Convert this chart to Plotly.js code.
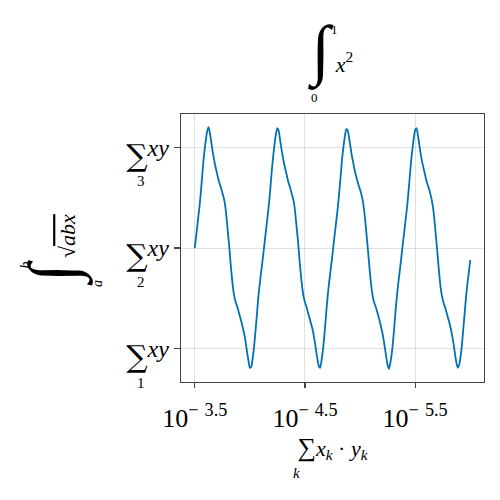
<!DOCTYPE html>
<html><head><meta charset="utf-8">
<script src="https://cdn.plot.ly/plotly-3.0.1.min.js"></script>
<style>html,body{margin:0;padding:0;background:#fff}</style>
</head><body>
<div id="chart" style="width:500px;height:500px"></div>
<script>
// x grid of the sampled curve: starts at 0, step 0.05 (201 samples to 10)
const xStart = 0;
const xStep = 0.05;
const yValues = [
  0.00, 0.12, 0.24, 0.36, 0.49, 0.65, 0.82, 0.96, 1.07, 1.16,
  1.20, 1.14, 1.05, 0.96, 0.88, 0.81, 0.75, 0.69, 0.64, 0.60,
  0.55, 0.50, 0.43, 0.31, 0.16, 0.02, -0.15, -0.30, -0.42, -0.50,
  -0.55, -0.59, -0.64, -0.69, -0.74, -0.80, -0.86, -0.94, -1.04, -1.12,
  -1.19, -1.18, -1.10, -0.99, -0.84, -0.68, -0.51, -0.38, -0.26, -0.15,
  -0.03,
  0.09, 0.21, 0.33, 0.46, 0.61, 0.78, 0.92, 1.04, 1.14, 1.19,
  1.16, 1.07, 0.98, 0.90, 0.83, 0.77, 0.71, 0.65, 0.61, 0.56,
  0.51, 0.45, 0.34, 0.20, 0.06, -0.11, -0.26, -0.39, -0.48, -0.54,
  -0.58, -0.63, -0.68, -0.73, -0.78, -0.84, -0.92, -1.01, -1.10, -1.17,
  -1.19, -1.12, -1.02, -0.88, -0.72, -0.55, -0.41, -0.29, -0.18, -0.06,
  0.06, 0.18, 0.30, 0.42, 0.57, 0.73, 0.89, 1.01, 1.11, 1.18,
  1.17, 1.10, 1.01, 0.92, 0.85, 0.78, 0.72, 0.67, 0.62, 0.58,
  0.53, 0.47, 0.37, 0.24, 0.09, -0.06, -0.22, -0.36, -0.46, -0.53,
  -0.57, -0.61, -0.66, -0.71, -0.77, -0.83, -0.90, -0.99, -1.08, -1.16,
  -1.20, -1.14, -1.05, -0.92, -0.76, -0.59, -0.45, -0.32, -0.21, -0.09,
  0.03, 0.15, 0.27, 0.39, 0.53, 0.69, 0.85, 0.98, 1.09, 1.17,
  1.19, 1.12, 1.03, 0.94, 0.86, 0.80, 0.74, 0.68, 0.63, 0.59,
  0.54, 0.48, 0.40, 0.28, 0.13, -0.02, -0.18, -0.33, -0.44, -0.51,
  -0.56, -0.60, -0.65, -0.70, -0.75, -0.81, -0.88, -0.96, -1.06, -1.14,
  -1.19, -1.16, -1.08, -0.96, -0.80, -0.64, -0.48, -0.35, -0.24, -0.12
];

const xTickVals = [0, 4, 8];
const xTickText = ['10<sup>−\u20043.5</sup>', '10<sup>−\u20044.5</sup>', '10<sup>−\u20045.5</sup>'];
const yTickVals = [-1, 0, 1];
const SIG = '<span style="font-family:DejaVu Serif;font-size:30px;baseline-shift:-10px">∑</span>';
const yTickText = [SIG + '<i>xy</i>', SIG + '<i>xy</i>', SIG + '<i>xy</i>'];
const yTickSubs = ['1', '2', '3'];

const titleText = '<span style="font-size:67px">∫</span> <i>x</i><sup>2</sup>';
const titleLimits = ['1', '0'];
const xTitleText = '<span style="font-size:26px">∑</span><i>x</i><sub><i>k</i></sub> · <i>y</i><sub><i>k</i></sub>\u2002';
const xTitleSub = 'k';
const yTitleText = '<span style="font-size:67px">∫</span> √<span style="text-decoration:overline"><i>abx</i></span>';
const yTitleLimits = ['b', 'a'];

const FONT = 'Liberation Serif, DejaVu Serif, serif';
const spine = '#444';

function note(x, y, text, size, extra) {
  return Object.assign({xref: 'paper', yref: 'paper', x: x, y: y, text: text, showarrow: false,
    xanchor: 'center', yanchor: 'middle', font: {family: FONT, size: size, color: '#000'}}, extra || {});
}

const annotations = [];
yTickVals.forEach((v, i) => annotations.push(
  note(-0.1304, v, yTickSubs[i], 15, {yref: 'y', yshift: -34})));
annotations.push(note(0.508, 1.317, titleLimits[0], 13));
annotations.push(note(0.4422, 1.0634, titleLimits[1], 13));
annotations.push(note(0.381, -0.3377, '<i>' + xTitleSub + '</i>', 15));
annotations.push(note(-0.513, 0.4366, '<i>' + yTitleLimits[0] + '</i>', 14, {textangle: -90}));
annotations.push(note(-0.2756, 0.3675, '<i>' + yTitleLimits[1] + '</i>', 14, {textangle: -90}));

const trace = {
  type: 'scatter', mode: 'lines',
  x0: xStart, dx: xStep, y: yValues,
  line: {color: '#0072B2', width: 1.8, shape: 'spline', smoothing: 0.6},
  hoverinfo: 'skip'
};

const layout = {
  width: 500, height: 500,
  margin: {l: 181, r: 16, t: 114, b: 118},
  paper_bgcolor: '#fff', plot_bgcolor: '#fff',
  showlegend: false,
  font: {family: FONT, color: '#000'},
  title: {text: titleText, x: 0.5, xref: 'paper', xanchor: 'center', y: 0.872, yref: 'container', yanchor: 'middle',
    font: {family: FONT, size: 22, color: '#000'}},
  xaxis: {
    range: [-0.5, 10.5], tickmode: 'array', tickvals: xTickVals, ticktext: xTickText,
    tickfont: {family: FONT, size: 26, color: '#000'}, ticklabelstandoff: 7,
    showline: true, mirror: true, linecolor: spine, linewidth: 1.3,
    ticks: 'outside', ticklen: 5, tickwidth: 1.2, tickcolor: spine,
    showgrid: true, gridcolor: 'rgba(0,0,0,0.12)', gridwidth: 1, zeroline: false,
    title: {text: xTitleText, standoff: 0, font: {family: FONT, size: 22, color: '#000'}},
    automargin: false
  },
  yaxis: {
    range: [-1.331, 1.331], tickmode: 'array', tickvals: yTickVals, ticktext: yTickText,
    tickfont: {family: FONT, size: 24, color: '#000'},
    showline: true, mirror: true, linecolor: spine, linewidth: 1.3,
    ticks: 'outside', ticklen: 6, tickwidth: 1.2, tickcolor: spine,
    showgrid: true, gridcolor: 'rgba(0,0,0,0.12)', gridwidth: 1, zeroline: false,
    title: {text: yTitleText, standoff: 44, font: {family: FONT, size: 22, color: '#000'}},
    automargin: false
  },
  annotations: annotations
};

Plotly.newPlot('chart', [trace], layout, {displayModeBar: false, staticPlot: true});
</script>
</body></html>
